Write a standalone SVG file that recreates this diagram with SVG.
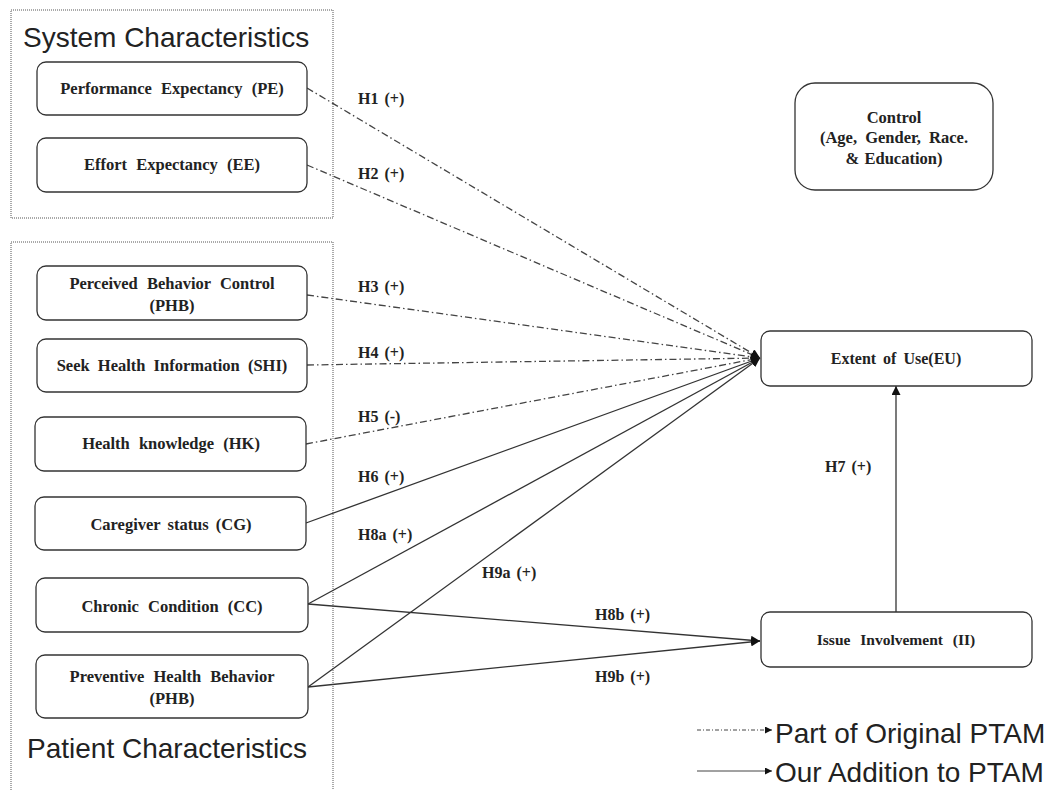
<svg xmlns="http://www.w3.org/2000/svg" width="1061" height="790" viewBox="0 0 1061 790">
<style>
.grp{fill:none;stroke:#555;stroke-width:1;stroke-dasharray:1 1}
.box{fill:#fff;stroke:#333;stroke-width:1.3}
.nt{font-family:"Liberation Serif","Times New Roman",serif;font-weight:bold;font-size:16.5px;fill:#222;text-anchor:middle;word-spacing:5px}
.lb{font-family:"Liberation Serif","Times New Roman",serif;font-weight:bold;font-size:16px;fill:#222;word-spacing:2px}
.big{font-family:"Liberation Sans",Arial,sans-serif;font-size:28px;fill:#222}
.dd{fill:none;stroke:#444;stroke-width:1.3;stroke-dasharray:7 3 1.5 3}
.sl{fill:none;stroke:#333;stroke-width:1.3}
</style>
<defs>
<marker id="ah" viewBox="0 0 10 10" refX="10" refY="5" markerWidth="9" markerHeight="9" markerUnits="userSpaceOnUse" orient="auto">
<path d="M0,0 L10,5 L0,10 z" fill="#111"/>
</marker>
<marker id="ahs" viewBox="0 0 10 10" refX="10" refY="5" markerWidth="7" markerHeight="7" markerUnits="userSpaceOnUse" orient="auto">
<path d="M0,0 L10,5 L0,10 z" fill="#111"/>
</marker>
</defs>
<rect width="1061" height="790" fill="#fff"/>

<g id="system-group">
<rect class="grp" x="11" y="10" width="322" height="208"/>
<text class="big" x="23" y="47">System Characteristics</text>
</g>
<g id="patient-group">
<path class="grp" d="M11,800 V242 H333 V800"/>
<text class="big" x="27" y="758">Patient Characteristics</text>
</g>

<g id="connectors">
<line class="dd" x1="307" y1="88" x2="760" y2="358" marker-end="url(#ah)"/>
<line class="dd" x1="307" y1="165" x2="760" y2="358" marker-end="url(#ah)"/>
<line class="dd" x1="307" y1="295" x2="760" y2="358" marker-end="url(#ah)"/>
<line class="dd" x1="307" y1="365" x2="760" y2="358" marker-end="url(#ah)"/>
<line class="dd" x1="306" y1="444" x2="760" y2="358" marker-end="url(#ah)"/>
<line class="sl" x1="306" y1="523" x2="760" y2="358" marker-end="url(#ah)"/>
<line class="sl" x1="308" y1="604" x2="760" y2="358" marker-end="url(#ah)"/>
<line class="sl" x1="308" y1="687" x2="760" y2="358" marker-end="url(#ah)"/>
<line class="sl" x1="308" y1="604" x2="760" y2="641" marker-end="url(#ah)"/>
<line class="sl" x1="308" y1="687" x2="760" y2="641" marker-end="url(#ah)"/>
<line class="sl" x1="896" y1="612" x2="896" y2="386" marker-end="url(#ah)"/>
<text class="lb" x="358" y="104">H1 (+)</text>
<text class="lb" x="358" y="179">H2 (+)</text>
<text class="lb" x="358" y="292">H3 (+)</text>
<text class="lb" x="358" y="358">H4 (+)</text>
<text class="lb" x="358" y="422">H5 (-)</text>
<text class="lb" x="358" y="482">H6 (+)</text>
<text class="lb" x="358" y="540">H8a (+)</text>
<text class="lb" x="482" y="578">H9a (+)</text>
<text class="lb" x="595" y="620">H8b (+)</text>
<text class="lb" x="595" y="682">H9b (+)</text>
<text class="lb" x="825" y="472">H7 (+)</text>
</g>

<g id="PE"><rect class="box" x="37" y="62" width="270" height="53" rx="9"/><text class="nt" x="172" y="94">Performance Expectancy (PE)</text></g>
<g id="EE"><rect class="box" x="37" y="138" width="270" height="54" rx="9"/><text class="nt" x="172" y="170">Effort Expectancy (EE)</text></g>
<g id="PBC"><rect class="box" x="37" y="266" width="270" height="54" rx="9"/><text class="nt" x="172" y="289">Perceived Behavior Control</text><text class="nt" x="172" y="311">(PHB)</text></g>
<g id="SHI"><rect class="box" x="37" y="339" width="270" height="53" rx="9"/><text class="nt" x="172" y="371" style="word-spacing:4px">Seek Health Information (SHI)</text></g>
<g id="HK"><rect class="box" x="35" y="417" width="271" height="54" rx="9"/><text class="nt" x="171" y="449">Health knowledge (HK)</text></g>
<g id="CG"><rect class="box" x="35" y="497" width="271" height="53" rx="9"/><text class="nt" x="171" y="530" style="word-spacing:3px">Caregiver status (CG)</text></g>
<g id="CC"><rect class="box" x="36" y="578" width="272" height="54" rx="9"/><text class="nt" x="172" y="612">Chronic Condition (CC)</text></g>
<g id="PHB"><rect class="box" x="36" y="655" width="272" height="63" rx="9"/><text class="nt" x="172" y="682">Preventive Health Behavior</text><text class="nt" x="172" y="704">(PHB)</text></g>
<g id="EU"><rect class="box" x="761" y="331" width="271" height="55" rx="9"/><text class="nt" x="896" y="364" style="font-size:16px;word-spacing:3px">Extent of Use(EU)</text></g>
<g id="II"><rect class="box" x="761" y="612" width="271" height="55" rx="9"/><text class="nt" x="896" y="645" style="font-size:15.5px;word-spacing:6px">Issue Involvement (II)</text></g>
<g id="Control"><rect class="box" x="795" y="83" width="198" height="107" rx="20"/><text class="nt" x="894" y="123">Control</text><text class="nt" x="894" y="143" style="word-spacing:4px">(Age, Gender, Race.</text><text class="nt" x="894" y="164" style="word-spacing:1px">&amp; Education)</text></g>

<g id="legend">
<line x1="697" y1="730" x2="772" y2="730" stroke="#444" stroke-width="1" stroke-dasharray="4 2 1 2" marker-end="url(#ahs)"/>
<text class="big" x="775" y="743">Part of Original PTAM</text>
<line x1="697" y1="771" x2="772" y2="771" stroke="#444" stroke-width="1" marker-end="url(#ahs)"/>
<text class="big" x="775" y="782">Our Addition to PTAM</text>
</g>
</svg>
